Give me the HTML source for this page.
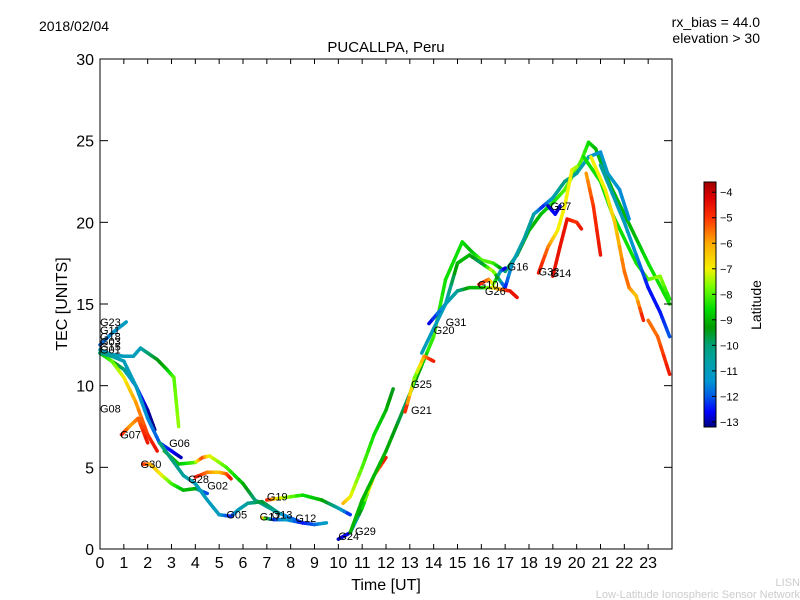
<!DOCTYPE html>
<html><head><meta charset="utf-8"><style>
body{margin:0;background:#fff;}
svg{display:block;font-family:"Liberation Sans","DejaVu Sans",sans-serif;}
</style></head><body>
<svg id="chart" width="800" height="600" viewBox="0 0 800 600">
<rect width="800" height="600" fill="#fff"/>
<text x="39" y="31" font-size="14">2018/02/04</text>
<text x="760" y="27" font-size="14" text-anchor="end">rx_bias = 44.0</text>
<text x="760" y="43" font-size="14" text-anchor="end">elevation &gt; 30</text>
<text x="386" y="52" font-size="15" text-anchor="middle">PUCALLPA, Peru</text>
<g id="marks"></g>
<g id="labels"></g>
<rect x="100" y="59" width="572" height="490" fill="none" stroke="#000" stroke-width="1"/>
<g id="axes"></g>
<text x="386" y="590" font-size="16" text-anchor="middle">Time [UT]</text>
<text x="67" y="304" font-size="16" text-anchor="middle" transform="rotate(-90 67 304)">TEC [UNITS]</text>
<defs><linearGradient id="jet" x1="0" y1="1" x2="0" y2="0"></linearGradient></defs>
<rect x="704" y="182" width="12" height="245" fill="url(#jet)" stroke="#000" stroke-width="1"/>
<g id="cbticks"></g>
<text x="761" y="305" font-size="14" text-anchor="middle" transform="rotate(-90 761 305)">Latitude</text>
<text x="800" y="586" font-size="11" fill="#ccc" text-anchor="end">LISN</text>
<text x="800" y="598" font-size="11" fill="#ccc" text-anchor="end">Low-Latitude Ionospheric Sensor Network</text>
</svg>
<script>
const xTicks=[0,1,2,3,4,5,6,7,8,9,10,11,12,13,14,15,16,17,18,19,20,21,22,23];
const yTicks=[0,5,10,15,20,25,30];
const cbTicks=[-4,-5,-6,-7,-8,-9,-10,-11,-12,-13];
const traceT=[
[0,0.5,1.1],
[0,0.5,1,1.4,1.7,2,2.4,2.8,3.1,3.3],
[0,0.5,1,1.5,2,2.3],
[0,0.5,1,1.5,2,2.4],
[0.9,1.3,1.6,2.0],
[0,0.5,1,1.5,2,2.5,3,3.4],
[2.7,3.3,4,4.3,4.6,5.3,6,6.5,7.5,8.5],
[1.8,2.1,2.6,3,3.5,4,4.5],
[4,4.5,5,5.3,5.5],
[2.5,3,3.5,4,4.5,5,5.5,5.8,6.2,6.8,7.5],
[7,7.5,8.5,9.3,10,10.5],
[6.8,7.3,7.8,8.5,9,9.5],
[10,10.5,11,11.5,12],
[10.2,10.5,11,11.5,12,12.3],
[10.5,11,12,13,14,14.5,15.2,15.6,16,16.5,17,17.5,18,18.5,19,19.5,20.2,20.5,20.8,21.2,21.5,22,22.5,23,23.9],
[13.5,14.5,15,15.5,16,16.5,17,17.3,17.8,18.2,18.6,19,19.5,20,20.5,21,21.3,21.8,22.2],
[13.8,14.5,15,15.5,16,16.5,16.8,17.2,17.5],
[15.9,16.3,16.5,16.8,17],
[18.4,18.8,19.2,19.5,19.8,20],
[19,19.3,19.6,20,20.2],
[20.4,20.7,21],
[18.8,19.1,19.3],
[20.3,21,21.5,22,22.5,23,23.5,23.9],
[20.6,21.2,21.6,22,22.2,22.5,22.8],
[21,22,22.5,23,23.5,23.9],
[23,23.4,23.9],
[12.8,13.2,13.6,14]
];
const traceV=[
[12.5,13.2,13.9],
[12.2,11.9,11.8,11.8,12.3,12,11.6,11,10.5,7.5],
[12,11.5,11,10,8.5,7.3],
[12,11.5,10.5,9,7,6],
[7,7.6,8,6.5],
[12,11.8,11.5,10,8,6.5,6,5.6],
[6,5.2,5.3,5.6,5.7,5,4,3,2.2,1.6],
[5.2,5.2,4.5,4,3.6,3.7,3.4],
[4.4,4.7,4.7,4.6,4.3],
[6.5,5.5,4.5,4,3,2.1,2,2.4,2.8,2.9,2.2],
[3,3.1,3.3,3,2.5,2.1],
[1.9,1.8,1.8,1.6,1.5,1.6],
[0.6,1,2.5,4.5,5.6],
[2.8,3.2,5,7,8.5,9.8],
[1,3,6,9.5,13,16.5,18.8,18.2,17.7,17.5,17,18,19.5,20.5,21.2,22,23.8,24.9,24.5,23,22,20.5,19,17.5,15],
[12,15,17.5,18,17.5,17,16,17.5,19,20.5,21,21.5,22.5,23,24,24.3,23,22,20.2],
[13.8,15,15.8,16,16,16,15.9,15.8,15.4],
[16.2,16.5,16.2,17,17.2],
[16.9,18.5,19.5,21,23.2,23.4],
[16.7,18.5,20.2,20,19.6],
[23,21,18],
[21,20.5,21],
[24,22.5,20.5,19,17.5,16.5,16.7,15.3],
[24,22,20,17,16,15.5,14],
[23.5,20,18,16,14.5,13],
[14,13,10.7],
[8.4,10.5,11.8,11.5]
];
const traceLat=[
[-12,-11.5,-11],
[-11,-11,-11,-11,-11,-10,-9.5,-9,-8,-7.5],
[-9,-9,-10,-12,-13,-13.2],
[-9,-8,-7,-6,-5,-4.5],
[-4.5,-6,-5.5,-4.5],
[-10,-10.5,-11,-11,-11.5,-12,-12.5,-13],
[-9,-9,-8,-5,-7,-8,-9,-10,-11,-12.5],
[-4.5,-6,-7,-8,-9,-9,-12.5],
[-4.5,-5.5,-6.5,-5.5,-4.5],
[-10,-10,-10.5,-11,-11,-11,-12.5,-11,-10.5,-9.5,-10.5],
[-4.5,-7,-8.5,-9,-10.5,-12.5],
[-5.5,-12.5,-11,-12.5,-12,-11],
[-13,-12.5,-9,-6,-4.5],
[-6,-7,-8,-8.5,-9,-9.5],
[-9,-9,-9,-10,-8,-8.5,-8.5,-9,-8,-8,-10,-9.5,-9,-9,-8.5,-8,-8,-8.5,-9,-9,-9,-9,-9,-8.5,-8.5],
[-11,-11,-9,-9,-10,-7,-12.5,-11,-10.5,-10.5,-12.5,-11,-10,-10.5,-11,-11.5,-11,-11.5,-11.5],
[-13,-11,-10.5,-9,-9,-7,-6,-4.5,-4.5],
[-4.5,-5.5,-7,-11,-13],
[-4.5,-5.5,-7,-7,-7,-7.5],
[-4.5,-4.5,-4.5,-5,-4.5],
[-6,-5,-4.5],
[-13,-12.5,-13],
[-8.5,-8.5,-8.5,-8.5,-8.5,-8,-7.5,-8.5],
[-7,-7,-6.5,-5.5,-5.5,-6.5,-4.5],
[-10.5,-11,-11.5,-12.5,-12.5,-12],
[-5.5,-5.5,-4.5],
[-4.5,-8,-6,-4.5]
];
const labelNames=["G23","G11","G18","G03","G15","G01","G08","G07","G06","G30","G28","G02","G05","G19","G17","G13","G12","G24","G29","G21","G25","G20","G31","G10","G26","G16","G32","G14","G27"];
const labelT=[0,0,0,0,0,0,0,0.85,2.9,1.7,3.7,4.5,5.3,7,6.7,7.2,8.2,10,10.7,13.05,13.05,14.0,14.5,15.85,16.15,17.1,18.4,18.9,18.9];
const labelV=[13.9,13.4,13.0,12.7,12.4,12.2,8.6,7.0,6.5,5.2,4.3,3.9,2.1,3.2,2.0,2.1,1.9,0.8,1.1,8.5,10.1,13.4,13.9,16.2,15.8,17.3,17.0,16.9,21.0];

const NS="http://www.w3.org/2000/svg";
const X0=100,X1=672,Y0=549,Y1=59;
const CB_TOP=-3.6,CB_BOT=-13.2,CB_Y0=182,CB_H=245;
const cmap=[[-13.2,[0,0,130]],[-12.6,[0,0,255]],[-12,[0,90,230]],[-11.4,[0,150,210]],[-10.7,[0,160,170]],[-10,[0,160,120]],[-9.3,[0,155,0]],[-8.6,[0,220,0]],[-7.7,[120,255,0]],[-7,[245,240,0]],[-6,[255,170,0]],[-5,[255,50,0]],[-4.2,[220,0,0]],[-3.6,[160,0,0]]];
function xs(t){return X0+(X1-X0)*t/24;}
function ys(v){return Y0-(Y0-Y1)*v/30;}
function jet(lat){
  if(lat<=cmap[0][0])return `rgb(${cmap[0][1]})`;
  for(let i=0;i<cmap.length-1;i++){
    const [a,ca]=cmap[i],[b,cb]=cmap[i+1];
    if(lat<=b){const f=(lat-a)/(b-a);return `rgb(${ca.map((c,k)=>Math.round(c+(cb[k]-c)*f)).join(',')})`;}
  }
  return `rgb(${cmap[cmap.length-1][1]})`;
}
const grad=document.getElementById('jet');
cmap.forEach(([l,c])=>{
  const s=document.createElementNS(NS,'stop');
  s.setAttribute('offset',(l-CB_BOT)/(CB_TOP-CB_BOT));
  s.setAttribute('stop-color',`rgb(${c})`);
  grad.appendChild(s);
});
const marks=document.getElementById('marks');
traceT.forEach((ts,i)=>{
  const g=document.createElementNS(NS,'g');
  
  
  const vs=traceV[i],ls=traceLat[i];
  for(let j=0;j<ts.length-1;j++){
    const n=4;
    for(let k=0;k<n;k++){
      const a=k/n,b=(k+1)/n;
      const ta=ts[j]+(ts[j+1]-ts[j])*a,tb=ts[j]+(ts[j+1]-ts[j])*b;
      const va=vs[j]+(vs[j+1]-vs[j])*a,vb=vs[j]+(vs[j+1]-vs[j])*b;
      const la=ls[j]+(ls[j+1]-ls[j])*(a+b)/2;
      const l=document.createElementNS(NS,'line');
      l.setAttribute('x1',xs(ta));l.setAttribute('y1',ys(va));
      l.setAttribute('x2',xs(tb));l.setAttribute('y2',ys(vb));
      l.setAttribute('stroke',jet(la));l.setAttribute('stroke-width','3.5');
      l.setAttribute('stroke-linecap','round');
      
      
      g.appendChild(l);
    }
  }
  marks.appendChild(g);
});
const lab=document.getElementById('labels');
labelNames.forEach((n,i)=>{
  const t=document.createElementNS(NS,'text');
  t.setAttribute('x',xs(labelT[i]));t.setAttribute('y',ys(labelV[i])+4);
  t.setAttribute('font-size','11');
  t.textContent=n;
  
  
  lab.appendChild(t);
});
const ax=document.getElementById('axes');
function add(tag,attrs,txt){const e=document.createElementNS(NS,tag);for(const k in attrs)e.setAttribute(k,attrs[k]);if(txt!==undefined)e.textContent=txt;ax.appendChild(e);return e;}
xTicks.forEach(t=>{
  const x=xs(t);
  const a=add('line',{x1:x,y1:Y0,x2:x,y2:Y0-5,stroke:'#000'});
  
  
  const b=add('line',{x1:x,y1:Y1,x2:x,y2:Y1+5,stroke:'#000'});
  
  
  const tx=add('text',{x:x,y:568,'font-size':'16','text-anchor':'middle'},String(t));
  
  
});
yTicks.forEach(v=>{
  const y=ys(v);
  const a=add('line',{x1:X0,y1:y,x2:X0+8,y2:y,stroke:'#000'});
  
  
  const b=add('line',{x1:X1,y1:y,x2:X1-8,y2:y,stroke:'#000'});
  
  
  const tx=add('text',{x:94,y:y+6,'font-size':'16','text-anchor':'end'},String(v));
  
  
});
const cb=document.getElementById('cbticks');
cbTicks.forEach(v=>{
  const y=CB_Y0+CB_H*(CB_TOP-v)/(CB_TOP-CB_BOT);
  const l=document.createElementNS(NS,'line');
  l.setAttribute('x1',712);l.setAttribute('x2',716);l.setAttribute('y1',y);l.setAttribute('y2',y);l.setAttribute('stroke','#000');
  
  
  cb.appendChild(l);
  const t=document.createElementNS(NS,'text');
  t.setAttribute('x',720);t.setAttribute('y',y+4);t.setAttribute('font-size','11');
  t.textContent=String(v).replace('-','\u2212');
  
  
  cb.appendChild(t);
});
</script>
</body></html>
